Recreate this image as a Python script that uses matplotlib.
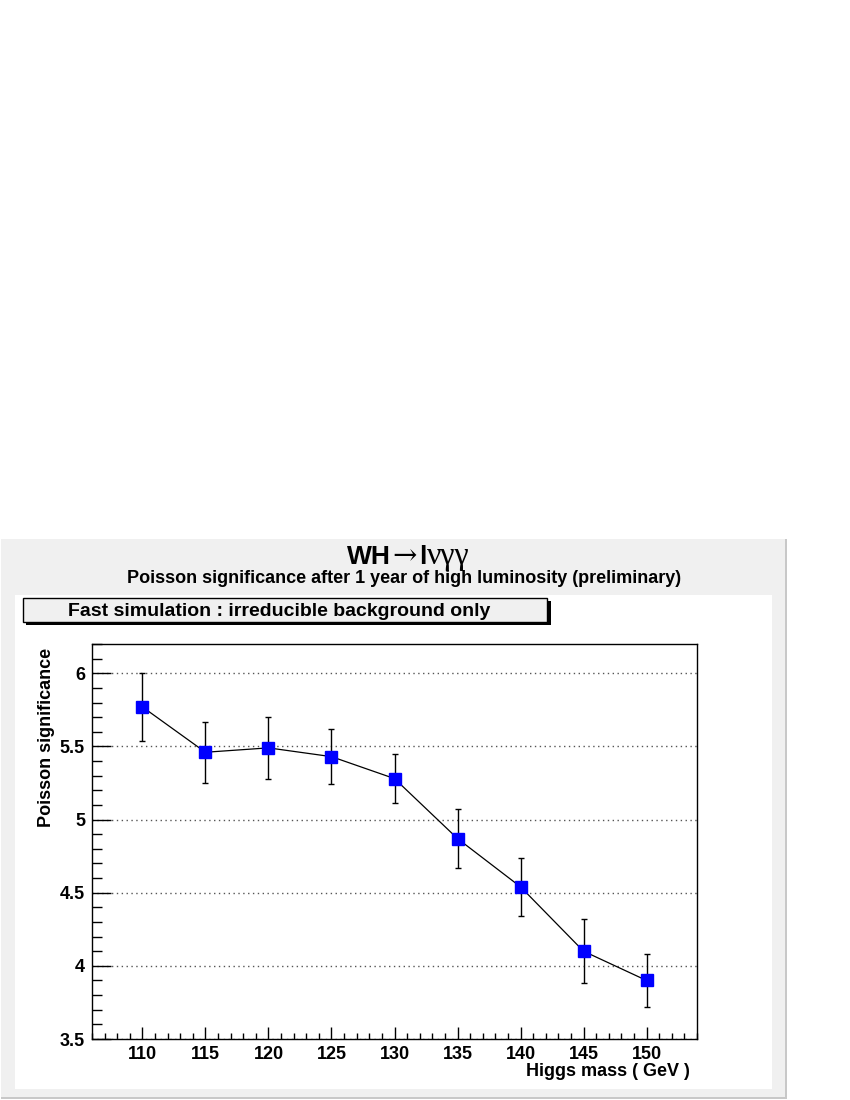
import numpy as np
import matplotlib.pyplot as plt
from matplotlib.patches import Rectangle
from matplotlib.ticker import MultipleLocator

plt.rcParams['font.family'] = ['Liberation Sans', 'DejaVu Sans']

mass = [110, 115, 120, 125, 130, 135, 140, 145, 150]
signif = [5.77, 5.46, 5.49, 5.43, 5.28, 4.87, 4.54, 4.10, 3.90]
err = [0.23, 0.21, 0.21, 0.19, 0.17, 0.20, 0.20, 0.22, 0.18]

W, H = 850, 1100
fig = plt.figure(figsize=(8.5, 11), dpi=100)


def fx(px):
    return px / W


def fy(py):
    return 1 - py / H


def rect(x0, y0, x1, y1, **kw):
    fig.patches.append(Rectangle((fx(x0), fy(y1)), fx(x1) - fx(x0), fy(y0) - fy(y1),
                                 transform=fig.transFigure, **kw))


# grey canvas with darker right/bottom edge
rect(1, 539, 787, 1099, facecolor='#f0f0f0', edgecolor='none', zorder=0)
rect(785, 539, 787, 1099, facecolor='#c8c8c8', edgecolor='none', zorder=0)
rect(1, 1097, 787, 1099, facecolor='#c8c8c8', edgecolor='none', zorder=0)
# white pad
rect(15, 595, 772, 1089, facecolor='white', edgecolor='none', zorder=0)

# title made of pieces: bold sans and symbol-like serif
renderer = fig.canvas.get_renderer()
pieces = [('WH', 'Liberation Sans', 'bold', 19, 2),
          ('\u2192', 'DejaVu Serif', 'normal', 21, 2),
          ('l', 'Liberation Sans', 'bold', 19, 0),
          ('\u03bd\u03b3\u03b3', 'Liberation Serif', 'normal', 23, 0)]
texts = []
for s, fam, fw, size, gap in pieces:
    t = fig.text(0, fy(564), s, ha='left', va='baseline', fontsize=size,
                 family=[fam, 'DejaVu Sans'], fontweight=fw)
    texts.append((t, gap))
widths = [t.get_window_extent(renderer).width + g for t, g in texts]
x = 408 - sum(widths) / 2
for (t, g), w in zip(texts, widths):
    t.set_x(fx(x))
    x += w

fig.text(fx(404), fy(578), 'Poisson significance after 1 year of high luminosity (preliminary)',
         ha='center', va='center', fontsize=13, fontweight='bold')

# label box with shadow
rect(26, 601, 551, 625, facecolor='black', edgecolor='none', zorder=1)
rect(23, 598, 547, 622, facecolor='#f0f0f0', edgecolor='black', linewidth=1, zorder=2)
fig.text(fx(279), fy(611), 'Fast simulation : irreducible background only',
         ha='center', va='center', fontsize=14, fontweight='bold', zorder=3)

ax = fig.add_axes([fx(92), fy(1039), fx(697) - fx(92), fy(644) - fy(1039)])
ax.set_zorder(5)
ax.set_facecolor('white')
ax.set_xlim(106, 154)
ax.set_ylim(3.5, 6.2)

ax.yaxis.grid(True, linestyle=(0, (1, 2.5)), color='#555555', linewidth=1)
ax.set_axisbelow(True)

ax.errorbar(mass, signif, yerr=err, fmt='-', color='black', linewidth=0.9,
            elinewidth=1, capsize=2.5, capthick=1, zorder=3)
ax.plot(mass, signif, 's', color='#0000ff', markersize=8.5, zorder=4)

ax.xaxis.set_major_locator(MultipleLocator(5))
ax.xaxis.set_minor_locator(MultipleLocator(1))
ax.yaxis.set_major_locator(MultipleLocator(0.5))
ax.yaxis.set_minor_locator(MultipleLocator(0.1))
ax.tick_params(which='both', direction='in', top=False, right=False, width=1)
ax.tick_params(axis='x', which='major', length=9)
ax.tick_params(axis='x', which='minor', length=4.5)
ax.tick_params(axis='y', which='major', length=14)
ax.tick_params(axis='y', which='minor', length=7.5)
ax.tick_params(labelsize=13, pad=5)
ax.set_xticks([110, 115, 120, 125, 130, 135, 140, 145, 150])
ax.set_xticklabels(['110', '115', '120', '125', '130', '135', '140', '145', '150'],
                   fontweight='bold')
ax.set_yticks([3.5, 4, 4.5, 5, 5.5, 6])
ax.set_yticklabels(['3.5', '4', '4.5', '5', '5.5', '6'], fontweight='bold')

for s in ax.spines.values():
    s.set_linewidth(1)

ax.set_xlabel('Higgs mass ( GeV )', fontsize=13, fontweight='bold')
ax.xaxis.set_label_coords(0.988, -0.06)
ax.xaxis.label.set_ha('right')
ax.set_ylabel('Poisson significance', fontsize=13, fontweight='bold')
ax.yaxis.set_label_coords(-0.075, 0.99)
ax.yaxis.label.set_va('center')
ax.yaxis.label.set_ha('right')

fig.savefig('out.png', dpi=100)
